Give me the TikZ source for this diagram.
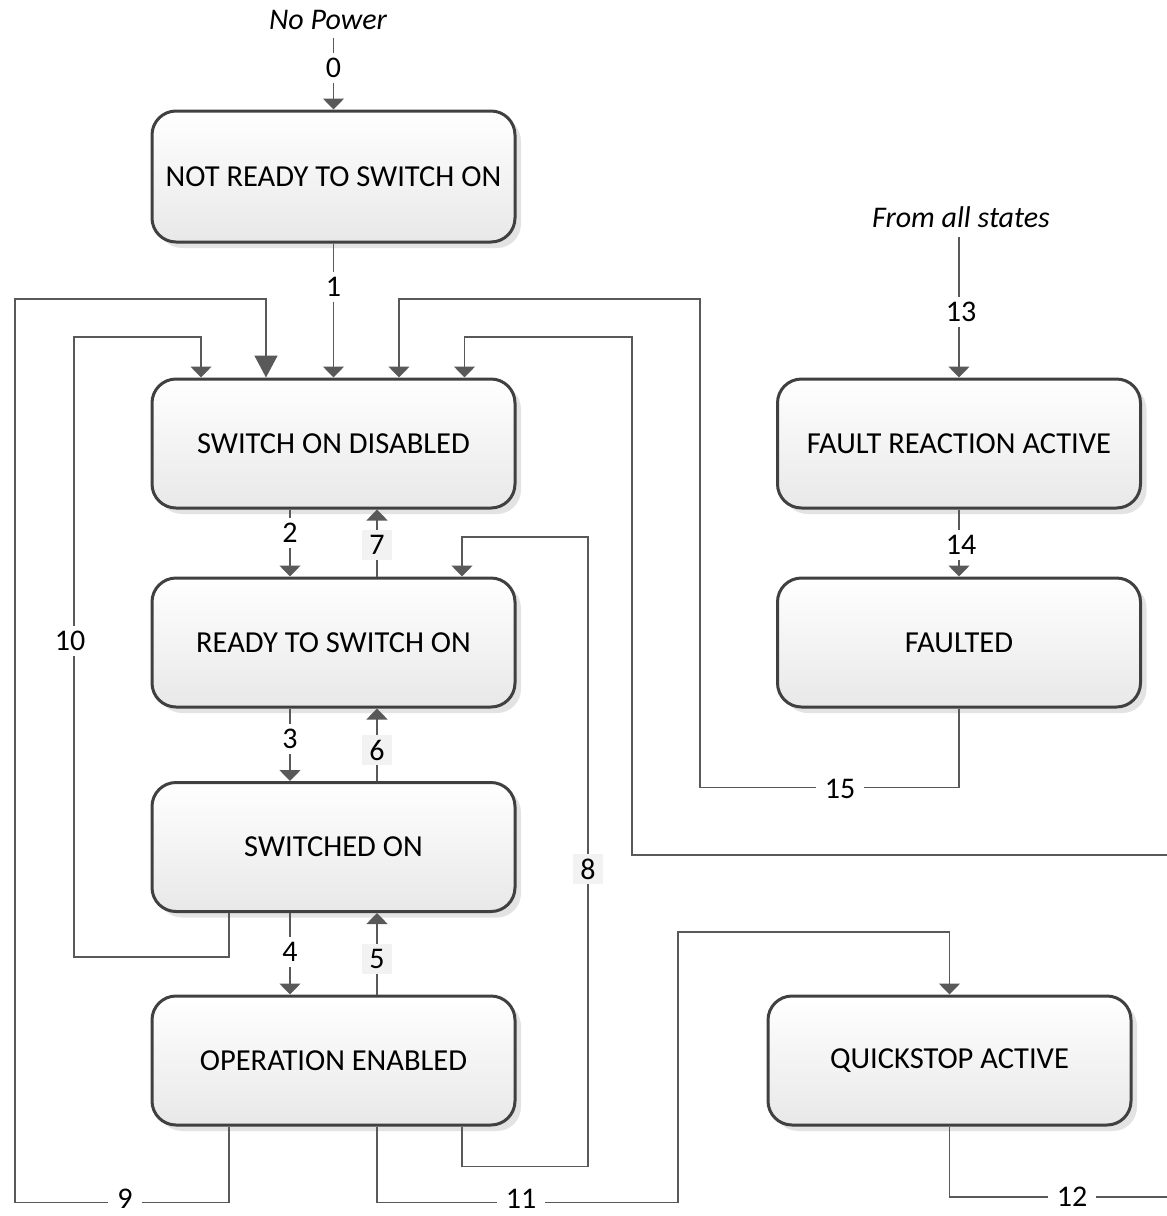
\documentclass[tikz,border=0pt]{standalone}
\usepackage{fontspec}
\setmainfont{Carlito}
\usetikzlibrary{arrows.meta,shadows}
\definecolor{edgecol}{HTML}{404040}
\definecolor{wirecol}{HTML}{595959}
\begin{document}
\begin{tikzpicture}[x=1pt,y=-1pt,
  state/.style={draw=edgecol, line width=3pt, rounded corners=24pt,
    minimum width=363pt, minimum height=129pt, inner sep=0pt,
    top color=white, bottom color=black!9,
    drop shadow={shadow xshift=6pt, shadow yshift=-6pt, fill=black!11, opacity=1},
    font=\fontsize{30.5}{36}\selectfont},
  conn/.style={draw=wirecol, line width=1.6pt},
  arr/.style={conn, -{Triangle[width=21pt,length=11pt]}},
  bigarr/.style={conn, -{Triangle[width=23pt,length=22pt]}},
  lbl/.style={fill=white, inner xsep=9pt, inner ysep=5pt, font=\fontsize{30}{36}\selectfont},
  glbl/.style={lbl, fill=black!5, inner xsep=7pt},
  note/.style={font=\fontsize{30}{36}\selectfont\itshape}]
\useasboundingbox (0,0) rectangle (1167,1216);

% states
\node[state, minimum height=131pt] (nr) at (333.5,176.5) {NOT READY TO SWITCH ON};
\node[state] (sod) at (333.5,443.5) {SWITCH ON DISABLED};
\node[state] (rts) at (333.5,642.5) {READY TO SWITCH ON};
\node[state] (so) at (333.5,847) {SWITCHED ON};
\node[state] (oe) at (333.5,1060.5) {OPERATION ENABLED};
\node[state] (fra) at (959,443.5) {FAULT REACTION ACTIVE};
\node[state] (flt) at (959,642.5) {FAULTED};
\node[state] (qa) at (949.5,1060.5) {QUICKSTOP ACTIVE};

% free texts
\node[note] (np) at (328,20) {No Power};
\node[note] (fas) at (961,217) {From all states};
\coordinate (re) at (1167,855);
\coordinate (e12) at (1167,1197);

% connectors
\draw[arr] (333.5,38) -- (nr.north);
\draw[arr] (nr.south) -- (sod.north);
\draw[arr] (fas) ++(-2,20) -- (fra.north);
\draw[arr] (fra.south) -- (flt.north);
\draw[arr] ([xshift=-43.5pt]sod.south) -- ([xshift=-43.5pt]rts.north);
\draw[arr] ([xshift=43.5pt]rts.north) -- ([xshift=43.5pt]sod.south);
\draw[arr] ([xshift=-43.5pt]rts.south) -- ([xshift=-43.5pt]so.north);
\draw[arr] ([xshift=43.5pt]so.north) -- ([xshift=43.5pt]rts.south);
\draw[arr] ([xshift=-43.5pt]so.south) -- ([xshift=-43.5pt]oe.north);
\draw[arr] ([xshift=43.5pt]oe.north) -- ([xshift=43.5pt]so.south);
% 10
\draw[arr] ([xshift=-104.5pt]so.south) -- ++(0,44) -| (74,337) -| ([xshift=-132.5pt]sod.north);
% 9
\draw[bigarr] ([xshift=-104.5pt]oe.south) -- ++(0,76) -| (15,299) -| ([xshift=-67.5pt]sod.north);
% 8
\draw[arr] ([xshift=128.5pt]oe.south) -- ++(0,40) -| (588,537) -| ([xshift=128.5pt]rts.north);
% 11
\draw[arr] ([xshift=43.5pt]oe.south) -- ++(0,76) -| (678,932) -| (qa.north);
% 15
\draw[arr] (flt.south) -- ++(0,79) -| (700,299) -| ([xshift=65.5pt]sod.north);
% from right edge
\draw[arr] (re) -| (632,337) -| ([xshift=131pt]sod.north);
% 12
\draw[conn] (qa.south) |- (e12);

% labels
\node[lbl] (l0) at (333.5,68) {0};
\node[lbl] (l1) at (333.5,287) {1};
\node[lbl] (l2) at (290,533) {2};
\node[glbl] (l7) at (377,545) {7};
\node[lbl] (l3) at (290,739) {3};
\node[glbl] (l6) at (377,750) {6};
\node[lbl] (l4) at (290,952) {4};
\node[glbl] (l5) at (377,959) {5};
\node[lbl] (l10) at (70,641) {10};
\node[glbl] (l8) at (588,869) {8};
\node[lbl, inner ysep=1.5pt] (l9) at (125,1199) {9};
\node[lbl, inner ysep=1.5pt] (l11) at (521,1199) {11};
\node[lbl] (l12) at (1072,1197) {12};
\node[lbl] (l13) at (961,312) {13};
\node[lbl] (l14) at (961,545) {14};
\node[lbl] (l15) at (840,789) {15};
\end{tikzpicture}
\end{document}
